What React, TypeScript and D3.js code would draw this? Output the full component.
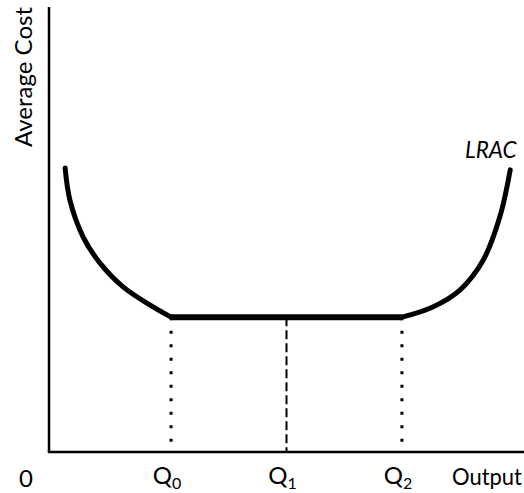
import React from "react";
import * as d3 from "d3";

const W = 524;
const H = 493;

// Output (x) and average cost (y) in arbitrary units, 0..100
const qLabels = ["0", "1", "2"];
const qValues = [25.7, 50, 74.3];
const minCost = 30.3;
const lracX = [3.4, 4.4, 7.2, 10.7, 15.6, 21.3, 25.7, 50, 74.3, 80.8, 86.5, 91.4, 94.9, 97.1];
const lracY = [63.8, 56.6, 48.3, 42.5, 37.1, 33.0, 30.3, 30.3, 30.3, 32.6, 36.4, 43.1, 52.8, 63.4];

const FONT = "Lato, 'DejaVu Sans', sans-serif";

export default function App() {
  const x = d3.scaleLinear().domain([0, 100]).range([49, 524]);
  const y = d3.scaleLinear().domain([0, 100]).range([452, 7]);

  const left = lracX.slice(0, 7).map((v, i) => [v, lracY[i]] as [number, number]);
  const flat = lracX.slice(6, 9).map((v, i) => [v, lracY[i + 6]] as [number, number]);
  const right = lracX.slice(8).map((v, i) => [v, lracY[i + 8]] as [number, number]);

  const curve = d3
    .line<[number, number]>()
    .x((d) => x(d[0]))
    .y((d) => y(d[1]))
    .curve(d3.curveCatmullRom.alpha(0.5));
  const straight = d3
    .line<[number, number]>()
    .x((d) => x(d[0]))
    .y((d) => y(d[1]));

  return (
    <svg
      width={W}
      height={H}
      style={{ position: "absolute", left: 0, top: 0, background: "#fff" }}
      fontFamily={FONT}
    >
      {/* axes */}
      <line x1={x(0)} y1={y(0)} x2={x(0)} y2={y(100)} stroke="#000" strokeWidth={2.5} />
      <line x1={x(0) - 1.2} y1={y(0)} x2={x(100)} y2={y(0)} stroke="#000" strokeWidth={2.5} />

      {/* drop lines */}
      {qValues.map((q, i) => (
        <line
          key={i}
          x1={x(q)}
          x2={x(q)}
          y1={y(minCost)}
          y2={y(0)}
          stroke="#000"
          strokeWidth={i === 1 ? 2 : 3}
          strokeDasharray={i === 1 ? "9 4" : "3 10.5"}
        />
      ))}

      {/* LRAC curve */}
      <path d={curve(left) || ""} fill="none" stroke="#000" strokeWidth={5} strokeLinecap="round" />
      <path d={curve(right) || ""} fill="none" stroke="#000" strokeWidth={5} strokeLinecap="round" />
      <path d={straight(flat) || ""} fill="none" stroke="#000" strokeWidth={6} />

      {/* labels */}
      <text x={26} y={487} fontSize={24} textAnchor="middle">0</text>
      {qValues.map((q, i) => (
        <text key={i} x={x(q) - 4} y={484} fontSize={24} textAnchor="middle">
          Q<tspan fontSize={16} dy={5}>{qLabels[i]}</tspan>
        </text>
      ))}
      <text x={452} y={485} fontSize={23} textLength={70} lengthAdjust="spacingAndGlyphs">Output</text>
      <text x={465} y={158} fontSize={22.5} fontStyle="italic">LRAC</text>
      <text
        transform="translate(32,77) rotate(-90)"
        fontSize={24}
        textAnchor="middle"
      >
        Average Cost
      </text>
    </svg>
  );
}
